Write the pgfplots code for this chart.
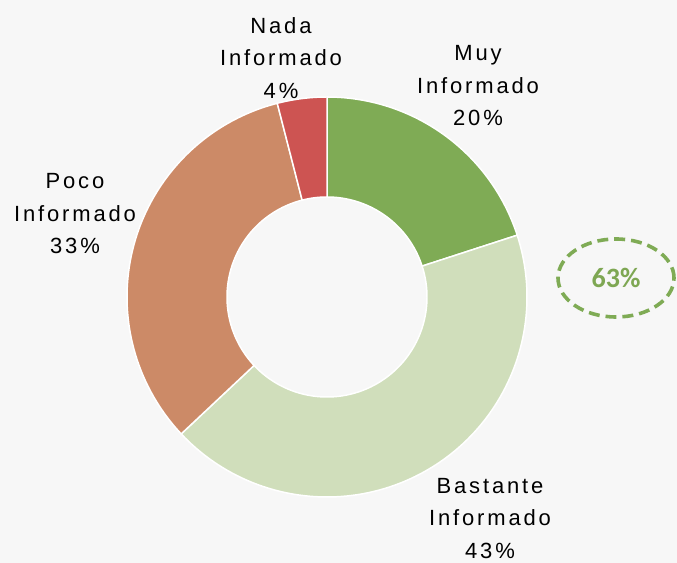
\documentclass[border=0pt]{standalone}
\usepackage{pgfplots}
\pgfplotsset{compat=1.18}
\usepackage{fontspec}
\setmainfont{Liberation Sans}
\newfontfamily\calib{Carlito}
\definecolor{bg}{HTML}{F7F7F7}
\definecolor{cMuy}{HTML}{7FAB55}
\definecolor{cBas}{HTML}{D0DEBB}
\definecolor{cPoco}{HTML}{CC8A67}
\definecolor{cNada}{HTML}{CD5452}
\definecolor{cTxt}{HTML}{7EA753}
\tikzset{lbl/.style={font=\fontsize{22bp}{32.5bp}\selectfont\addfontfeature{LetterSpace=13}, align=center, text=black, inner sep=0pt}}
% #1 = cumulative percent before slice, #2 = slice percent, #3 = colour
\newcommand{\ring}[3]{%
  \addplot[fill=#3, draw=white, line width=1.5pt, samples at={0,1,...,201}, variable=\t]
   ( {((\t<101) ? 1 : 0.5)*cos(90-3.6*(#1+#2*((\t<101) ? \t/100 : (201-\t)/100)))},
     {((\t<101) ? 1 : 0.5)*sin(90-3.6*(#1+#2*((\t<101) ? \t/100 : (201-\t)/100)))} ) -- cycle;
}
\begin{document}
\begin{tikzpicture}
\begin{axis}[
  width=677bp, height=563bp, scale only axis,
  xmin=-1.635, xmax=1.75, ymin=-1.33, ymax=1.485,
  axis line style={draw=none}, ticks=none,
  axis background/.style={fill=bg},
  clip=false
]
\ring{0}{20}{cMuy}
\ring{20}{43}{cBas}
\ring{63}{33}{cPoco}
\ring{96}{4}{cNada}
\node[lbl] at (axis cs:-0.23,1.195) {Nada\\Informado\\4\%};
\node[lbl] at (axis cs:0.755,1.055) {Muy\\Informado\\20\%};
\node[lbl] at (axis cs:-1.26,0.415) {Poco\\Informado\\33\%};
\node[lbl] at (axis cs:0.815,-1.107) {Bastante\\Informado\\43\%};
\draw[cMuy, line width=3.6pt, dash pattern=on 11pt off 6pt] (axis cs:1.445,0.095) ellipse [x radius=0.29, y radius=0.195];
\node[font=\calib\bfseries\fontsize{28bp}{30bp}\selectfont, text=cTxt] at (axis cs:1.445,0.095) {63\%};
\end{axis}
\end{tikzpicture}
\end{document}
